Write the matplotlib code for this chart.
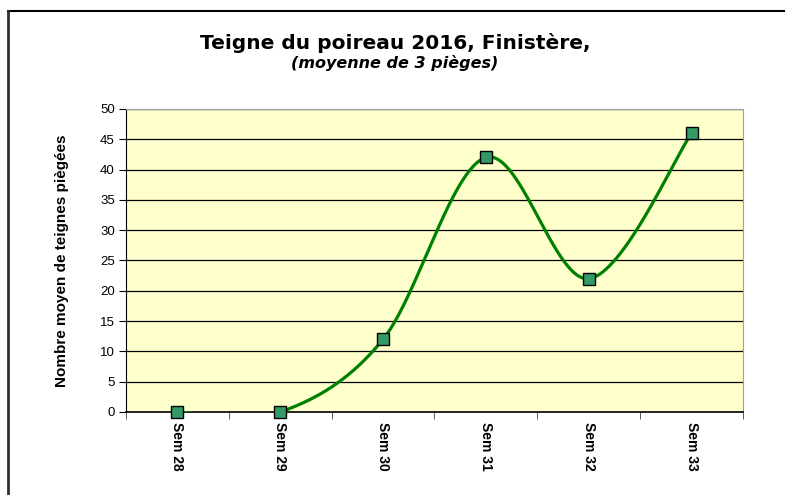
import matplotlib
matplotlib.use("Agg")
import matplotlib.pyplot as plt
from matplotlib.lines import Line2D
import numpy as np

plt.rcParams['font.family'] = ['Liberation Sans', 'DejaVu Sans']

# === données ===
semaines = ["Sem 28", "Sem 29", "Sem 30", "Sem 31", "Sem 32", "Sem 33"]
teignes = [0, 0, 12, 42, 22, 46]
y_ticks = [0, 5, 10, 15, 20, 25, 30, 35, 40, 45, 50]


# courbe lissée façon Excel (Bézier, tension 1/6)
def lisser(x, y, n=60):
    x = np.asarray(x, float)
    y = np.asarray(y, float)
    px = np.concatenate([[x[0]], x, [x[-1]]])
    py = np.concatenate([[y[0]], y, [y[-1]]])
    xs, ys = [], []
    t = np.linspace(0, 1, n)
    for i in range(1, len(px) - 2):
        p0 = np.array([px[i], py[i]])
        p3 = np.array([px[i + 1], py[i + 1]])
        c1 = p0 + (np.array([px[i + 1], py[i + 1]]) - np.array([px[i - 1], py[i - 1]])) / 6
        c2 = p3 - (np.array([px[i + 2], py[i + 2]]) - np.array([px[i], py[i]])) / 6
        b = ((1 - t) ** 3)[:, None] * p0 + (3 * (1 - t) ** 2 * t)[:, None] * c1 \
            + (3 * (1 - t) * t ** 2)[:, None] * c2 + (t ** 3)[:, None] * p3
        xs.extend(b[:, 0])
        ys.extend(b[:, 1])
    return np.array(xs), np.array(ys)


x = np.arange(len(semaines))
xs, ys = lisser(x, teignes)

fig = plt.figure(figsize=(7.85, 4.95), dpi=100)
ax = fig.add_axes([0.1605, 0.1677, 0.786, 0.6121])
ax.set_facecolor("#FFFFCC")

ax.plot(xs, ys, color="#008000", lw=2.3, zorder=3)
ax.plot(x, teignes, ls="none", marker="s", ms=9, mfc="#339966", mec="black", mew=1,
        zorder=4, clip_on=False)

ax.set_xlim(-0.5, 5.5)
ax.set_ylim(0, 50)
ax.set_yticks(y_ticks)
ax.yaxis.grid(True, color="black", lw=0.9)
ax.set_axisbelow(True)
ax.tick_params(axis="y", labelsize=9.5, length=5, pad=3)

ax.set_xticks(x)
ax.set_xticklabels(semaines, rotation=-90, fontsize=10, fontweight="bold")
ax.set_xticks(np.arange(-0.5, 6, 1), minor=True)
ax.tick_params(axis="x", which="major", length=0, pad=7)
ax.tick_params(axis="x", which="minor", length=5, color="#404040")

for s in ["top", "right"]:
    ax.spines[s].set_color("#A0A0A0")
ax.spines["left"].set_color("black")
ax.spines["bottom"].set_color("black")
ax.spines["bottom"].set_linewidth(1.2)

ax.set_ylabel("Nombre moyen de teignes piègées", fontsize=11, fontweight="bold", labelpad=22)

fig.text(0.503, 0.913, "Teigne du poireau 2016, Finistère,", ha="center", va="center",
         fontsize=14.5, fontweight="bold", family="DejaVu Sans")
fig.text(0.503, 0.873, "(moyenne de 3 pièges)", ha="center", va="center",
         fontsize=11.5, fontweight="bold", style="italic", family="DejaVu Sans")

# cadre du graphique (coupé à droite et en bas)
fig.add_artist(Line2D([0.0102, 1.0], [0.9778, 0.9778], color="black", lw=1.5))
fig.add_artist(Line2D([0.0102, 0.0102], [0.0, 0.9778], color="#303030", lw=2))

fig.savefig("out.png", dpi=100)
